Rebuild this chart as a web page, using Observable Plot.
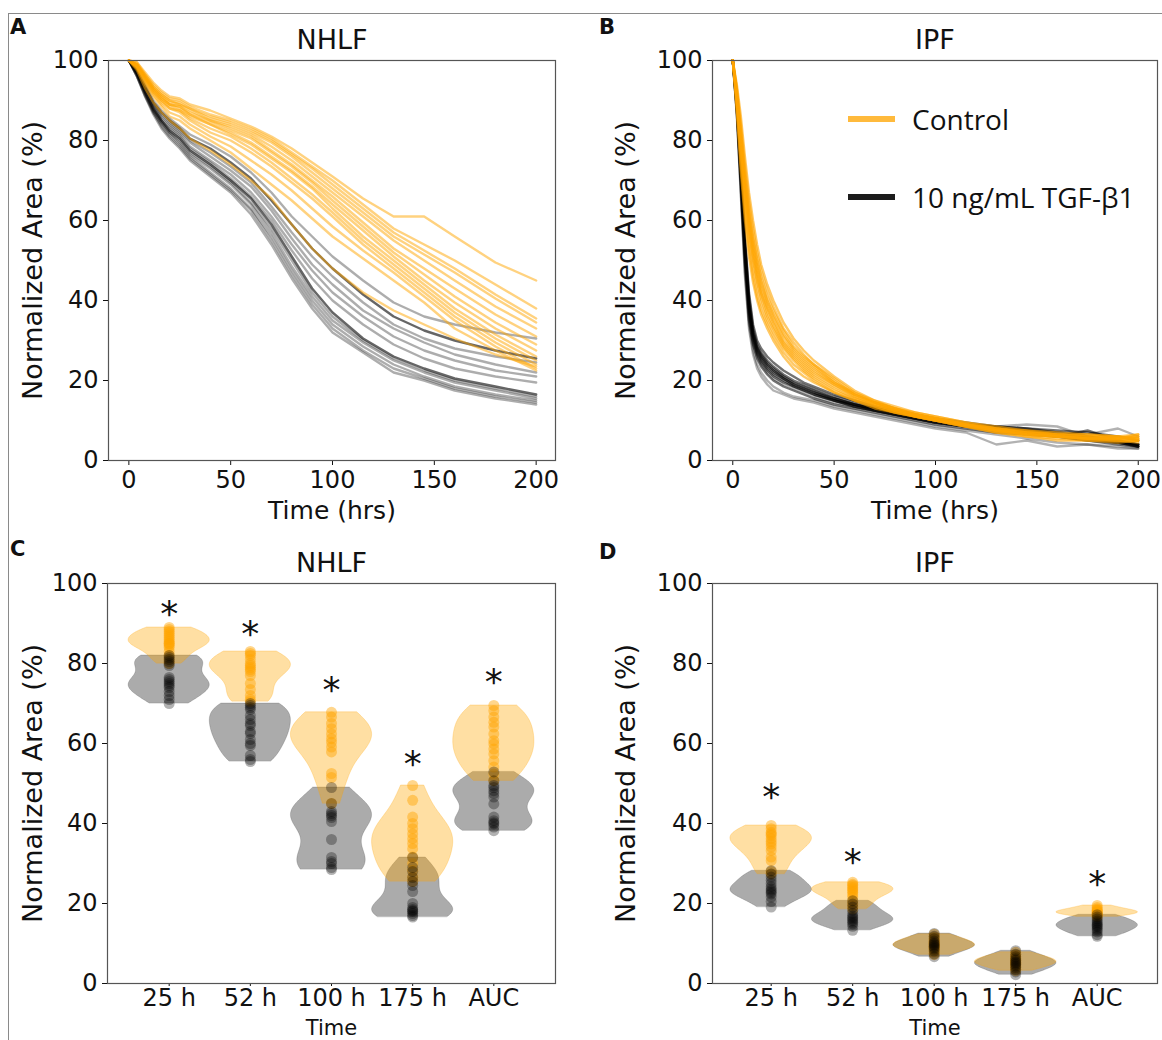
<!DOCTYPE html>
<html><head><meta charset="utf-8">
<script src="https://cdn.jsdelivr.net/npm/d3@7"></script>
<script src="https://cdn.jsdelivr.net/npm/@observablehq/plot@0.6"></script>
<style>
body{margin:0;background:#fff;}
#fig{position:relative;width:1162px;height:1040px;overflow:hidden;background:#fff;font-family:"DejaVu Sans";}
.panel{position:absolute;}
.letter{position:absolute;font:bold 21px "DejaVu Sans";color:#111;}
.bt{position:absolute;left:8px;top:13px;width:1154px;height:0;border-top:1.5px solid #8a8a8a;}
.bl{position:absolute;left:8px;top:13px;width:0;height:1027px;border-left:1.5px solid #8a8a8a;}
.sw{position:absolute;height:6px;width:47px;}
.lt{position:absolute;font:28px "Open Sans";color:#111;white-space:nowrap;line-height:1;}
</style></head>
<body>
<div id="fig">
  <div class="bt"></div><div class="bl"></div>
  <div id="pA" class="panel" style="left:0;top:0;width:580px;height:520px"></div>
  <div id="pB" class="panel" style="left:580px;top:0;width:582px;height:520px"></div>
  <div id="pC" class="panel" style="left:0;top:520px;width:580px;height:520px"></div>
  <div id="pD" class="panel" style="left:580px;top:520px;width:582px;height:520px"></div>
  <div class="letter" style="left:10px;top:15px">A</div>
  <div class="letter" style="left:599px;top:15px">B</div>
  <div class="letter" style="left:10px;top:537px">C</div>
  <div class="letter" style="left:599px;top:540px">D</div>
  <div class="sw" style="left:848px;top:116px;background:#FFBA3C"></div>
  <div class="lt" style="left:912px;top:105px">Control</div>
  <div class="sw" style="left:848px;top:194px;background:#1c1c1c"></div>
  <div class="lt" style="left:912px;top:183px">10 ng/mL TGF-β1</div>
</div>
<script>
// ---------- DATA ----------
const yTicks = [0, 20, 40, 60, 80, 100];
const timeTicks = [0, 50, 100, 150, 200];
const categories = ["25 h", "52 h", "100 h", "175 h", "AUC"];

// Panel A (NHLF) time courses
const timesA = [0,4,8,12,16,20,25,30,40,50,60,70,80,90,100,115,130,145,160,180,200];
const nhlfControl = [
  [100,99.5,97,94.5,92.5,91,90.5,89,87.5,85.5,83.5,81,78,74.5,71,65.5,61,61,56,49.5,45],
  [100,99,96.5,94,92,90.5,90,88.5,86.5,85,83,80.5,77,73.5,70,64,58,54,50,44,38],
  [100,99,96,93.5,91.5,90,89.5,88,86,84.5,82.5,80,76.5,73,69,63,57,52.5,48,41.5,35.5],
  [100,99.5,96.5,93.5,91.5,90,89,88,85.5,84,82,79.5,76,72,68,62,56,51.5,47,40.5,34.5],
  [100,99,96,93,91,89.5,89,87.5,85,83.5,81.5,78.5,75,71,67,61,55,50,45,38.5,33],
  [100,98.5,95.5,93,91,89,88.5,87,85,83,81,77.5,74,70,66,59.5,53,48,43,36.5,31],
  [100,99,96,93,90.5,89,88.5,86.5,84.5,82.5,80.5,77,73.5,69.5,65,58.5,52,46.5,41,34.5,29],
  [100,98.5,95.5,92.5,90.5,89,88,86.5,84,82,79.5,76,72.5,68.5,64,57.5,51,45,39.5,33,27.5],
  [100,99,95.5,92.5,90,88.5,87.5,86,84,81.5,79,75.5,72,68,63,56,50,44,38,31.5,26],
  [100,98.5,95,92,90,88,87.5,85.5,83,81,78,74.5,70.5,66.5,62,55,49,43,37,30.5,25],
  [100,98.5,95,92,89.5,88,87,85,82,80,77,73.5,69.5,65.5,61,54,48,42,36,29.5,24],
  [100,98,94.5,91.5,89,87,86,84,81,78.5,75,71.5,67.5,63,58.5,52.5,47,41,35,28.5,23],
  [100,98,94,91,88.5,86,85,83,80,77,73,69,65,60.5,56,50.5,45,39.5,33,27.5,22.5],
  [100,97.5,93,89.5,87,85,83,80.5,77.5,74,70,65.5,59,53,48,42,37.5,34,30.5,26.5,23.5]
];
const nhlfTGF = [
  [100,98,94,90,87.5,85.5,83.5,81.5,79,76,72,67,61,56,51,45,39.5,36,34,32,30.5],
  [100,97.5,93.5,89.5,87,85,83,80.5,78,74.5,70.5,65,59,53,48,41.5,36,32.5,30,27.5,25.5],
  [100,97.5,93,89,86.5,84.5,82.5,80,77,73.5,69.5,63.5,57,51,46,39.5,34,30.5,28,26,24.5],
  [100,97,93,89,86,84,82,79.5,76,72.5,68.5,62.5,55.5,49,44,37.5,33,29.5,26.5,24,22],
  [100,97,92.5,88.5,85.5,83.5,81.5,78.5,75,71.5,67,61,54,47.5,42,36,31,27.5,25,22.5,21],
  [100,97,92.5,88,85,83,81,78,74.5,70.5,66,60,52.5,45.5,40,34,29,25.5,23,21,19.5],
  [100,96.5,92,88,85,82.5,80.5,77.5,74,70,65.5,59,51,43,37,30.5,26,23,20.5,18.5,16.5],
  [100,96.5,92,87.5,84.5,82,80,77,73.5,69.5,64.5,58,50,42,36,30,25.5,22.5,20,18,16],
  [100,96.5,91.5,87.5,84.5,82,79.5,76.5,73,69,64,57,48.5,41,35,29.5,25,22,19.5,17.5,15.5],
  [100,96,91.5,87,84,81.5,79,76,72,68,63,56,47.5,40,34,28.5,24,21,18.5,16.5,15],
  [100,96,91,87,83.5,81,78.5,75.5,71.5,67.5,62.5,55,46.5,39,33,27.5,23,20.5,18,16,14.5],
  [100,96,91,86.5,83,80.5,78,75,71,67,61.5,54,45.5,38,32,27,22,20,17.5,15.5,14]
];

// Panel B (IPF) time courses
const timesB = [0,2,4,6,8,10,12,14,17,20,25,30,35,40,50,60,70,80,90,100,115,130,145,160,175,190,200];
const ipfControl = [
  [100,94,86,76,67,60,54,49,44,40,34.5,30.5,27.5,25,21,17.5,15,13,11.5,10.5,9,7.5,7,6.5,6,5.5,6],
  [100,93,84,74,65,58,52,47.5,42.5,38.5,33,29.5,26.5,24,20.5,17,14.5,12.5,11,10,8.5,7.5,6.5,6,5.5,5.5,6],
  [100,93,83,72,63,56,50.5,46,41,37.5,32.5,28.5,26,24,20,16.5,14.5,13,11.5,10.5,9,8,7,6.5,6,6,6.5],
  [100,92,82,71,62,55,49.5,45,40,36.5,31.5,28,25.5,23.5,19.5,16.5,14.5,13,12,11,9.5,8.5,7.5,6.5,6,5.5,5.5],
  [100,92,81,70,61,54,48.5,44,39.5,36,31,27.5,25,23,19.5,17,15,13.5,12,11,9.5,8,7,6.5,6.5,6,5],
  [100,91,80,69,60,53,47.5,43,38.5,35,30,27,24.5,22.5,19,16.5,14.5,13,11.5,10.5,9,8,7.5,7,6.5,6,5.5],
  [100,91,80,68,59,52,46.5,42,38,34.5,29.5,26.5,24,22,19,16,14,12.5,11.5,10.5,9,7.5,6.5,6,5.5,5,5],
  [100,90,78,67,58,51,45.5,41.5,37,33.5,29,26,23.5,21.5,18.5,16,14,12.5,11,10,8.5,7.5,6.5,6,5.5,5,4.5],
  [100,90,78,66,57,50,44.5,40.5,36,33,28.5,25.5,23,21,18,15.5,14,12.5,11.5,10.5,9,8,7,6,5.5,5.5,6.5],
  [100,89,76,64,55,48,43,39,35,32,28,25,22.5,20.5,17.5,15.5,13.5,12,11,10,8.5,7,6,5.5,5,5,5],
  [100,88,74,62,53,46,41,37.5,34,31,27,24,22,20,17,15,13.5,12,11,10,9,7.5,6.5,6,5.5,5.5,5.5],
  [100,87,72,60,51,44.5,40,36.5,33,30,26,23,21,19.5,17,15,13,12,11,10,8.5,7,6,5,5,4.5,5]
];
const ipfTGF = [
  [100,91,75,56,42,34,30,28,26,24.5,22.5,21,19.5,18.5,16.5,15,13.5,12.5,11.5,10.5,9.5,8.5,8,7.5,7,6,5],
  [100,90,74,55,41,33,29,27,25,23.5,21.5,20,19,18,16,14.5,13,12,11,10,9,8.5,8,7,6,5,4],
  [100,90,73,54,40,32,28.5,26.5,24.5,23,21,19.5,18.5,17.5,15.5,14,13,12,11,10,9,8,7.5,6.5,5.5,5,4],
  [100,89,72,53,39,31.5,28,26,24,22.5,20.5,19,18,17,15,14,12.5,11.5,10.5,9.5,8.5,7.5,7,6,5,4.5,3.5],
  [100,89,71,52,38,31,27,25,23,21.5,20,18.5,17.5,16.5,15,13.5,12.5,11.5,10.5,9.5,8.5,8,7.5,6.5,5.5,4.5,3.5],
  [100,88,70,51,37,30,26.5,24.5,22.5,21,19.5,18.5,17.5,16.5,15,13.5,12.5,11.5,10.5,9.5,8.5,7.5,7,6,5,4,3.5],
  [100,88,70,50,36,29.5,26,24,22,20.5,19,18,17,16,14.5,13.5,12.5,11.5,10.5,9.5,9,8.5,9,8.5,6,5,4],
  [100,87,68,49,35,29,25.5,23.5,21.5,20,18.5,17.5,16.5,15.5,14,13,12,11,10,9,8,7,6.5,6,7.5,5,3.5],
  [100,87,67,47,34,27.5,24,22,20,18.5,17,16,15.5,15,13.5,12.5,11.5,10.5,9.5,8.5,7.5,6.5,5.5,4.5,4,3.5,3],
  [100,86,66,46,33,26.5,23,21,19,17.5,16.5,15.5,15,14.5,13,12,11,10,9,8,7,4,5,3.5,4,3,3],
  [100,89,72,53,39,32,28,26,24,22.5,21,19.5,18.5,17.5,15.5,14,13,12,11,10,9,8,7.5,7,6.5,8,6],
  [100,88,71,52,38,31,27.5,25.5,23.5,22,20.5,19,18,17,15.5,14,13,12,11,10,9,8,7,6.5,5.5,4.5,4]
];

// Panel C (NHLF) per-well values at each time point / AUC
const nhlfCtrlPts = [
  [89,88.5,88,87.5,87,86.5,86,85.5,85,85,84.5,84,83,82,81,80],
  [83,82.5,82,81,80,79.5,79,78.5,78,77,75,73.5,72,71,70.5],
  [67.8,66.6,65,63.7,62.4,61.2,60.3,59.1,57.9,52.5,51.5,45],
  [49.5,45.8,41.6,40,38.7,37.4,36.2,35,33.7,31.6,30,28.3,26.6,25.5],
  [69.5,68.2,66.6,65.3,64.1,62.4,60.7,59.9,58.6,57.4,55.7,54.1,52.4,50.7]
];
const nhlfTGFPts = [
  [82,81.5,81,80.5,80,79.5,76.5,76,75.5,75,74.5,74,73,72,71,70],
  [70,69.5,69,68.5,67,66,65,64.5,63,62.5,61,60,59.5,57,56,55.5],
  [49,45,43,42.5,42,41.5,40.5,36,31.5,30.5,30,29,28.5],
  [31.5,29,28,26.5,25.5,24.5,23,20,19,18.5,18.2,18,17.5,17,16.6],
  [52.9,50.7,49.5,49,48.2,47.5,46.6,44.9,41.6,40.7,40.2,39.9,39.1,38.2]
];
// Panel D (IPF)
const ipfCtrlPts = [
  [39.5,38.7,37.8,37.4,37,36.2,35.5,34.9,34.1,33.2,31.6,30.7,28,27.4],
  [25.3,24.8,24.5,24,23.6,23.2,22.8,22.2,21.6,20.5,19.5,18.6],
  [12.3,11.6,11.1,10.7,10.3,10,9.7,9.4,9.1,8.8,8.4,7.8,7.2],
  [7.8,7.1,6.6,6.2,5.9,5.6,5.3,5,4.7,4.3,3.8,3.2],
  [19.5,19,18.6,18.3,18.1,17.9,17.7,17.5,17.3,17,16.7]
];
const ipfTGFPts = [
  [28.2,27.4,26.6,25.8,25,24.2,23.6,23.2,22.8,22.4,21.6,20.5,19.1],
  [20.7,19.9,19.1,18.3,17.5,16.9,16.5,16.1,15.7,15.3,14.9,14.3,13.3],
  [12.5,11.8,11.2,10.6,10.2,9.9,9.6,9.3,9,8.6,8.1,7.4,6.7],
  [8.2,7.3,6.7,6.2,5.8,5.4,5.1,4.8,4.4,4,3.5,2.9,2.2],
  [17.2,16.6,16.1,15.6,15.2,14.8,14.5,14.2,13.8,13.4,12.9,12.2,11.8]
];
// significance markers (y position of "*"), null = none
const nhlfStars = [94.5, 89.5, 75.4, 57, 77.4];
const ipfStars = [48.7, 32.4, null, null, 27];

// ---------- RENDER ----------
const ORANGE = "#FFA500";
const FONT = "DejaVu Sans";

function lineRows(times, lines, prefix) {
  const rows = [];
  lines.forEach((vals, i) => vals.forEach((v, j) => rows.push({t: times[j], v, id: prefix + i, k: i})));
  return rows;
}
function kde(vals, n = 90) {
  const sd = d3.deviation(vals);
  const bw = sd * Math.pow(vals.length, -1 / 5);
  const lo = d3.min(vals), hi = d3.max(vals);
  const ys = d3.range(n).map(i => lo + (hi - lo) * i / (n - 1));
  const ds = ys.map(y => d3.mean(vals, x => Math.exp(-0.5 * ((y - x) / bw) ** 2)));
  const mx = d3.max(ds);
  return ys.map((y, i) => ({y, w: 0.5 * ds[i] / mx}));
}
function violinRows(groups, prefix) {
  const rows = [];
  groups.forEach((vals, i) => kde(vals).forEach(d => rows.push({y: d.y, x1: i - d.w, x2: i + d.w, key: prefix + i})));
  return rows;
}
function pointRows(groups) {
  const rows = [];
  groups.forEach((vals, i) => vals.forEach(v => rows.push({i, v})));
  return rows;
}

function commonMarks(title, xlabel, ylabelDx, xlabelDy, xlabelSize) {
  return [
    Plot.frame({stroke: "#555", strokeWidth: 1.2}),
    Plot.axisY({ticks: yTicks, tickSize: 5, tickPadding: 5, fontSize: 24, label: null}),
    Plot.text([title], {frameAnchor: "top", lineAnchor: "middle", textAnchor: "middle", dy: -20, fontSize: 27, fill: "#111"}),
    Plot.text([xlabel], {frameAnchor: "bottom", lineAnchor: "middle", textAnchor: "middle", dy: xlabelDy, fontSize: xlabelSize, fill: "#111"}),
    Plot.text(["Normalized Area (%)"], {frameAnchor: "left", lineAnchor: "middle", textAnchor: "middle", rotate: -90, dx: ylabelDx, fontSize: 27, fill: "#111"})
  ];
}
const baseStyle = {fontFamily: FONT, fontSize: "24px", color: "#111", background: "transparent", overflow: "visible"};

function linePanel(el, {ml, mr, times, ctrl, tgf, title, ylabelDx, darkTGF, tgfDarkOp, tgfLightOp, ctrlOp}) {
  const rc = lineRows(times, ctrl, "c");
  const rt = lineRows(times, tgf, "t");
  const p = Plot.plot({
    width: +el.style.width.replace("px", ""), height: 520,
    marginLeft: ml, marginRight: mr, marginTop: 60, marginBottom: 60,
    style: baseStyle,
    x: {domain: [-10, 209.5]},
    y: {domain: [0, 100]},
    marks: [
      Plot.line(rt.filter(d => !darkTGF.includes(d.k)), {x: "t", y: "v", z: "id", stroke: "#000", strokeOpacity: tgfLightOp, strokeWidth: 2.4}),
      Plot.line(rt.filter(d => darkTGF.includes(d.k)), {x: "t", y: "v", z: "id", stroke: "#000", strokeOpacity: tgfDarkOp, strokeWidth: 2.4}),
      Plot.line(rc, {x: "t", y: "v", z: "id", stroke: ORANGE, strokeOpacity: ctrlOp, strokeWidth: 2.4}),
      Plot.axisX({ticks: timeTicks, tickSize: 5, tickPadding: 5, fontSize: 24, label: null}),
      ...commonMarks(title, "Time (hrs)", ylabelDx, 50, 25)
    ]
  });
  el.appendChild(p);
}

function violinPanel(el, {ml, mr, xDomain, ctrl, tgf, stars, title, ylabelDx}) {
  const vc = violinRows(ctrl, "c"), vt = violinRows(tgf, "t");
  const pc = pointRows(ctrl), pt = pointRows(tgf);
  const st = stars.map((v, i) => ({i, v})).filter(d => d.v != null);
  const p = Plot.plot({
    width: +el.style.width.replace("px", ""), height: 520,
    marginLeft: ml, marginRight: mr, marginTop: 63, marginBottom: 57,
    style: baseStyle,
    x: {domain: xDomain},
    y: {domain: [0, 100]},
    marks: [
      Plot.areaX(vt, {y: "y", x1: "x1", x2: "x2", z: "key", fill: "#000", fillOpacity: 0.33, stroke: "#000", strokeOpacity: 0.15, strokeWidth: 1}),
      Plot.areaX(vc, {y: "y", x1: "x1", x2: "x2", z: "key", fill: ORANGE, fillOpacity: 0.36, stroke: ORANGE, strokeOpacity: 0.25, strokeWidth: 1}),
      Plot.dot(pc, {x: "i", y: "v", r: 5.5, fill: ORANGE, fillOpacity: 0.45, stroke: null}),
      Plot.dot(pt, {x: "i", y: "v", r: 5.5, fill: "#000", fillOpacity: 0.3, stroke: null}),
      Plot.text(st, {x: "i", y: "v", text: () => "*", fontSize: 36, dy: 9, fill: "#111"}),
      Plot.axisX({ticks: [0, 1, 2, 3, 4], tickFormat: i => categories[i], tickSize: 3, tickPadding: 2, fontSize: 24, label: null}),
      ...commonMarks(title, "Time", ylabelDx, 45, 21)
    ]
  });
  el.appendChild(p);
}

linePanel(document.getElementById("pA"), {ml: 108, mr: 25, times: timesA, ctrl: nhlfControl, tgf: nhlfTGF, title: "NHLF", ylabelDx: -75, darkTGF: [1, 6], tgfDarkOp: 0.6, tgfLightOp: 0.32, ctrlOp: 0.5});
linePanel(document.getElementById("pB"), {ml: 132, mr: 5, times: timesB, ctrl: ipfControl, tgf: ipfTGF, title: "IPF", ylabelDx: -86, darkTGF: [0,1,2,3,4,5,7,11], tgfDarkOp: 0.55, tgfLightOp: 0.3, ctrlOp: 0.6});
violinPanel(document.getElementById("pC"), {ml: 107, mr: 25, xDomain: [-0.76, 4.76], ctrl: nhlfCtrlPts, tgf: nhlfTGFPts, stars: nhlfStars, title: "NHLF", ylabelDx: -74});
violinPanel(document.getElementById("pD"), {ml: 132, mr: 5, xDomain: [-0.72, 4.74], ctrl: ipfCtrlPts, tgf: ipfTGFPts, stars: ipfStars, title: "IPF", ylabelDx: -86});
</script>
</body></html>
